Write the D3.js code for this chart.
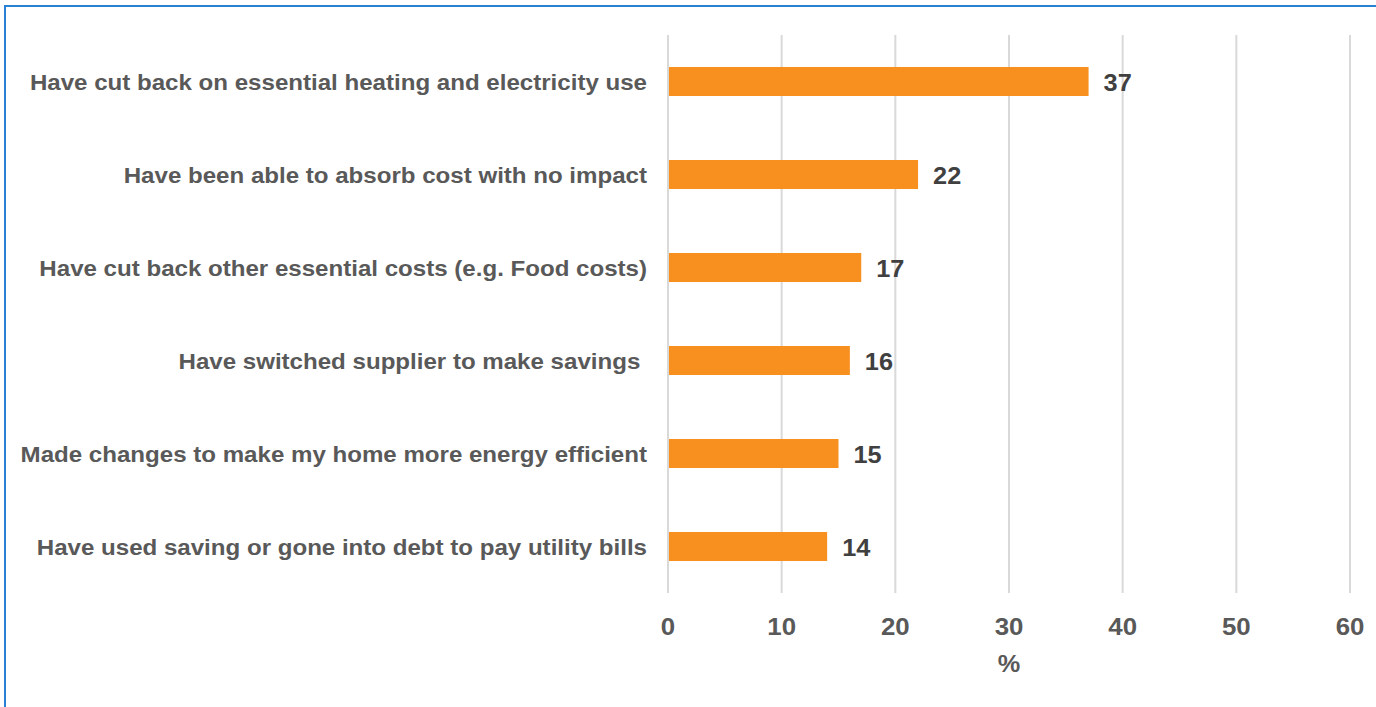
<!DOCTYPE html>
<html>
<head>
<meta charset="utf-8">
<script src="https://cdn.jsdelivr.net/npm/d3@7"></script>
<style>
  html, body { margin: 0; padding: 0; background: #fff; overflow: hidden; }
  svg { display: block; }
  text { font-family: "Liberation Sans", Arial, sans-serif; font-weight: bold; white-space: pre; }
</style>
</head>
<body>
<svg id="chart" width="1376" height="707"></svg>
<script>
// Responses to rising energy costs (% of respondents)
const categories = [
  "Have cut back on essential heating and electricity use",
  "Have been able to absorb cost with no impact",
  "Have cut back other essential costs (e.g. Food costs)",
  "Have switched supplier to make savings ",
  "Made changes to make my home more energy efficient",
  "Have used saving or gone into debt to pay utility bills"
];
const values = [37, 22, 17, 16, 15, 14];
const tickValues = [0, 10, 20, 30, 40, 50, 60];
const axisTitle = "%";

const svg = d3.select("#chart");
const stretch = 1.1; // slightly widened glyphs

// Outer frame
svg.append("rect")
  .attr("x", 5).attr("y", 6)
  .attr("width", 1400).attr("height", 720)
  .attr("fill", "none")
  .attr("stroke", "#2a80d2")
  .attr("stroke-width", 2);

const x = d3.scaleLinear().domain([0, 60]).range([668, 1350]);
const y = d3.scaleBand().domain(categories).range([35, 593])
  .paddingInner(0.688).paddingOuter(0.344);

// Vertical gridlines
svg.append("g")
  .selectAll("line")
  .data(tickValues)
  .join("line")
  .attr("x1", d => x(d)).attr("x2", d => x(d))
  .attr("y1", 35).attr("y2", 593)
  .attr("stroke", "#d9d9d9")
  .attr("stroke-width", 2);

// Bars
svg.append("g")
  .selectAll("rect")
  .data(values)
  .join("rect")
  .attr("x", x(0) + 1)
  .attr("y", (d, i) => y(categories[i]))
  .attr("width", d => x(d) - x(0) - 1)
  .attr("height", y.bandwidth())
  .attr("fill", "#f7901e");

// Value labels
svg.append("g")
  .selectAll("text")
  .data(values)
  .join("text")
  .attr("transform", (d, i) => `translate(${x(d) + 15},${y(categories[i]) + y.bandwidth() / 2 + 1}) scale(${stretch},1)`)
  .attr("dy", "0.35em")
  .attr("font-size", 23)
  .attr("fill", "#404040")
  .text(d => d);

// Category labels
svg.append("g")
  .selectAll("text")
  .data(categories)
  .join("text")
  .attr("transform", d => `translate(647,${y(d) + y.bandwidth() / 2 + 1}) scale(${stretch},1)`)
  .attr("dy", "0.35em")
  .attr("text-anchor", "end")
  .attr("font-size", 21.9)
  .attr("fill", "#595959")
  .text(d => d);

// X axis tick labels
const axis = d3.axisBottom(x).tickValues(tickValues).tickSize(0).tickPadding(0);
const gAxis = svg.append("g").attr("transform", "translate(0,627)").call(axis);
gAxis.select(".domain").remove();
gAxis.selectAll("text")
  .attr("y", 0)
  .attr("dy", "0.35em")
  .attr("transform", `scale(${stretch},1)`)
  .attr("x", 0)
  .attr("font-size", 23.5)
  .attr("font-family", "Liberation Sans, Arial, sans-serif")
  .attr("fill", "#595959");
gAxis.selectAll(".tick").each(function(d) {
  d3.select(this).attr("transform", `translate(${x(d)},0)`);
});

// Axis title
svg.append("text")
  .attr("transform", `translate(${(x(0) + x(60)) / 2},664) scale(${stretch},1)`)
  .attr("dy", "0.35em")
  .attr("text-anchor", "middle")
  .attr("font-size", 23)
  .attr("fill", "#595959")
  .text(axisTitle);
</script>
</body>
</html>
